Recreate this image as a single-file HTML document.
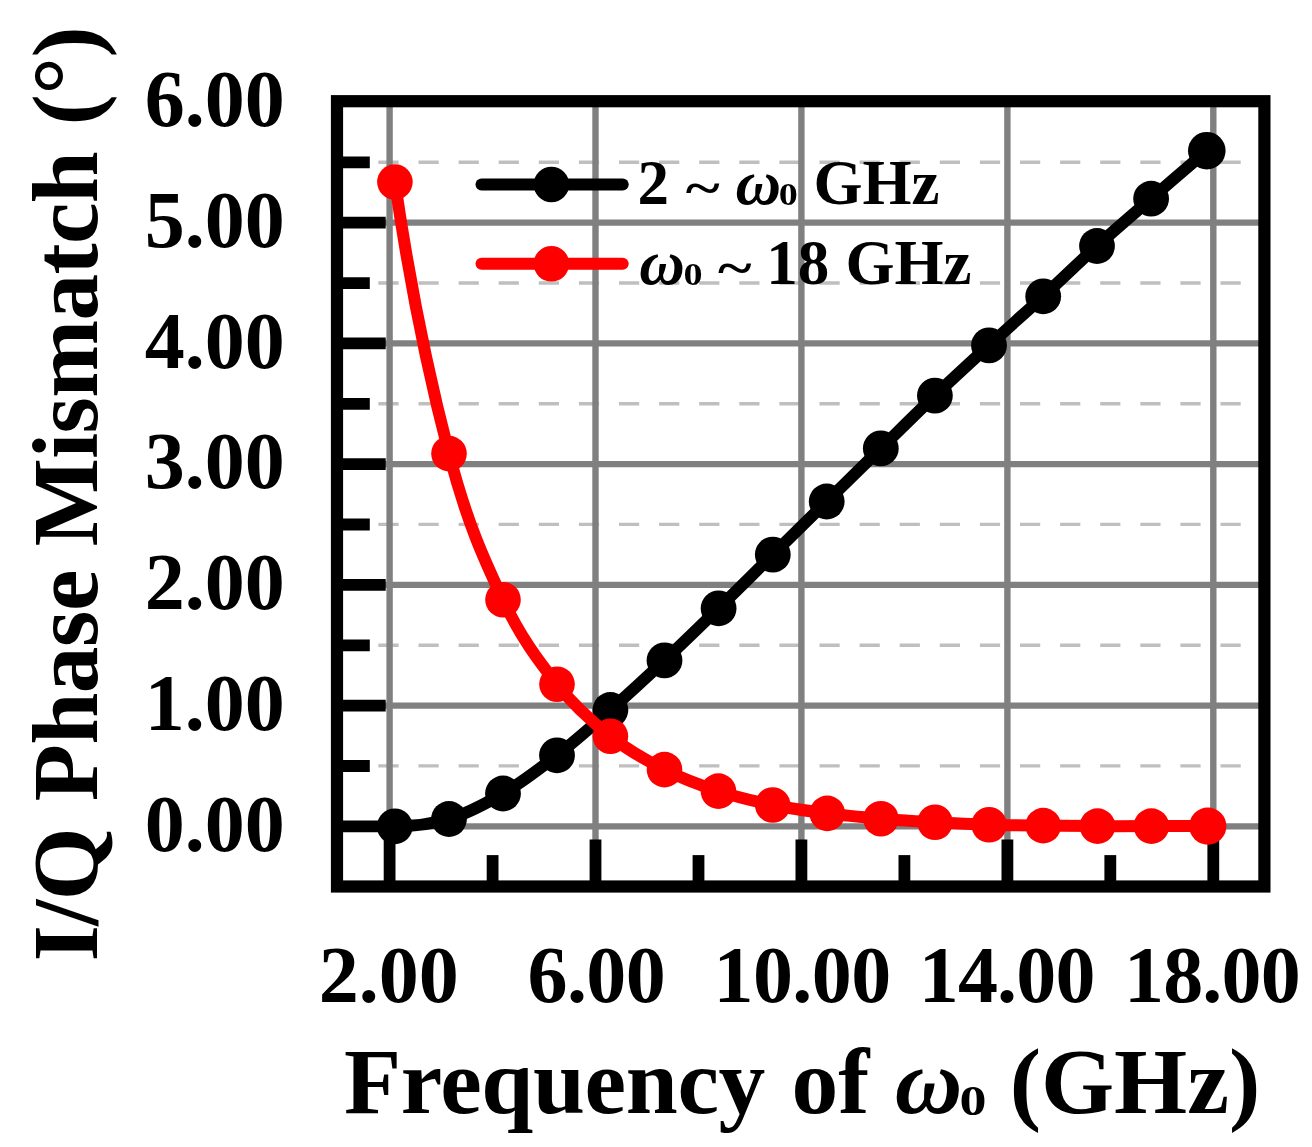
<!DOCTYPE html>
<html lang="en"><head><meta charset="utf-8"><title>I/Q Phase Mismatch vs Frequency</title>
<style>html,body{margin:0;padding:0;background:#fff}body{width:1312px;height:1147px;overflow:hidden}svg{display:block}text{font-family:"Liberation Serif","Times New Roman",serif;font-weight:bold;fill:#000}.it{font-style:italic}</style></head><body>
<svg width="1312" height="1147" viewBox="0 0 1312 1147">
<rect width="1312" height="1147" fill="#fff"/>
<g stroke="#bfbfbf" stroke-width="3.4" stroke-dasharray="20.2 19.9" fill="none">
<line x1="378.4" y1="765.9" x2="1241" y2="765.9"/>
<line x1="378.4" y1="645.2" x2="1241" y2="645.2"/>
<line x1="378.4" y1="524.4" x2="1241" y2="524.4"/>
<line x1="378.4" y1="403.7" x2="1241" y2="403.7"/>
<line x1="378.4" y1="283.0" x2="1241" y2="283.0"/>
<line x1="378.4" y1="162.2" x2="1241" y2="162.2"/>
</g>
<g stroke="#808080" stroke-width="6.4" fill="none">
<line x1="389.6" y1="101.2" x2="389.6" y2="886.5"/>
<line x1="595.5" y1="101.2" x2="595.5" y2="886.5"/>
<line x1="801.4" y1="101.2" x2="801.4" y2="886.5"/>
<line x1="1007.4" y1="101.2" x2="1007.4" y2="886.5"/>
<line x1="1213.3" y1="101.2" x2="1213.3" y2="886.5"/>
<line x1="337.0" y1="826.4" x2="1264.4" y2="826.4" stroke-width="6.2"/>
<line x1="337.0" y1="705.7" x2="1264.4" y2="705.7" stroke-width="6.2"/>
<line x1="337.0" y1="584.9" x2="1264.4" y2="584.9" stroke-width="6.2"/>
<line x1="337.0" y1="464.2" x2="1264.4" y2="464.2" stroke-width="6.2"/>
<line x1="337.0" y1="343.4" x2="1264.4" y2="343.4" stroke-width="6.2"/>
<line x1="337.0" y1="222.7" x2="1264.4" y2="222.7" stroke-width="6.2"/>
</g>
<g stroke="#000" stroke-width="11.8" fill="none">
<line x1="337.0" y1="826.4" x2="385.7" y2="826.4"/>
<line x1="337.0" y1="705.7" x2="385.7" y2="705.7"/>
<line x1="337.0" y1="584.9" x2="385.7" y2="584.9"/>
<line x1="337.0" y1="464.2" x2="385.7" y2="464.2"/>
<line x1="337.0" y1="343.4" x2="385.7" y2="343.4"/>
<line x1="337.0" y1="222.7" x2="385.7" y2="222.7"/>
<line x1="337.0" y1="766.0" x2="369.8" y2="766.0"/>
<line x1="337.0" y1="645.3" x2="369.8" y2="645.3"/>
<line x1="337.0" y1="524.5" x2="369.8" y2="524.5"/>
<line x1="337.0" y1="403.8" x2="369.8" y2="403.8"/>
<line x1="337.0" y1="283.1" x2="369.8" y2="283.1"/>
<line x1="337.0" y1="162.3" x2="369.8" y2="162.3"/>
<line x1="389.6" y1="886.5" x2="389.6" y2="839.5"/>
<line x1="595.5" y1="886.5" x2="595.5" y2="839.5"/>
<line x1="801.4" y1="886.5" x2="801.4" y2="839.5"/>
<line x1="1007.4" y1="886.5" x2="1007.4" y2="839.5"/>
<line x1="1213.3" y1="886.5" x2="1213.3" y2="839.5"/>
<line x1="492.6" y1="886.5" x2="492.6" y2="855.1"/>
<line x1="698.5" y1="886.5" x2="698.5" y2="855.1"/>
<line x1="904.4" y1="886.5" x2="904.4" y2="855.1"/>
<line x1="1110.3" y1="886.5" x2="1110.3" y2="855.1"/>
</g>
<rect x="337.0" y="101.2" width="927.4" height="785.3" fill="none" stroke="#000" stroke-width="12.2"/>
<g stroke-width="12" stroke-linecap="round" fill="none"><line x1="481.5" y1="184.5" x2="622.7" y2="184.5" stroke="#000"/><line x1="481.5" y1="263.7" x2="622.7" y2="263.7" stroke="#f00"/></g>
<circle cx="551.4" cy="184.5" r="17.8" fill="#000"/><circle cx="551.4" cy="263.8" r="17.8" fill="#f00"/>
<text x="637.6" y="204.3" font-size="63.0">2</text>
<text transform="translate(685.8 205.3) scale(1.035 0.80)" font-size="63.0">~</text>
<text x="735.5" y="204.3" font-size="63.0" class="it">ω</text>
<text transform="translate(778.7 205.1) scale(1.230 1)" font-size="31.0">0</text>
<text x="813.5" y="204.3" font-size="63.0">GHz</text>
<text x="639.2" y="284.0" font-size="63.0" class="it">ω</text>
<text transform="translate(683.5 284.8) scale(1.230 1)" font-size="31.0">0</text>
<text transform="translate(718.1 284.8) scale(1.023 0.80)" font-size="63.0">~</text>
<text x="766.2" y="284.0" font-size="63.0">18</text>
<text x="845.5" y="284.0" font-size="63.0">GHz</text>
<path d="M394.8 826.3 C413.0 826.4 431.0 824.3 449.0 819.0 C467.0 813.5 485.0 804.1 503.0 793.5 C521.0 782.9 539.1 769.2 557.0 755.3 C574.9 741.4 592.5 725.8 610.4 710.0 C628.3 694.2 646.5 677.4 664.5 660.4 C682.5 643.4 700.6 625.9 718.6 608.3 C736.6 590.7 754.8 572.4 772.8 554.6 C790.8 536.8 808.7 519.2 826.7 501.5 C844.7 483.8 862.8 466.0 880.8 448.4 C898.8 430.8 916.9 412.8 934.9 395.6 C952.9 378.4 971.0 361.9 989.0 345.4 C1007.0 328.8 1025.2 312.9 1043.2 296.3 C1061.2 279.7 1079.0 262.3 1097.0 246.0 C1115.0 229.7 1132.8 214.6 1151.1 198.7 C1169.4 182.8 1197.5 158.7 1206.8 150.7" fill="none" stroke="#000" stroke-width="12" stroke-linejoin="round" stroke-linecap="round"/>
<circle cx="394.8" cy="826.3" r="17.9" fill="#000"/>
<circle cx="449.0" cy="819.0" r="17.9" fill="#000"/>
<circle cx="503.0" cy="793.5" r="17.9" fill="#000"/>
<circle cx="557.0" cy="755.3" r="17.9" fill="#000"/>
<circle cx="610.4" cy="710.0" r="17.9" fill="#000"/>
<circle cx="664.5" cy="660.4" r="17.9" fill="#000"/>
<circle cx="718.6" cy="608.3" r="17.9" fill="#000"/>
<circle cx="772.8" cy="554.6" r="17.9" fill="#000"/>
<circle cx="826.7" cy="501.5" r="17.9" fill="#000"/>
<circle cx="880.8" cy="448.4" r="17.9" fill="#000"/>
<circle cx="934.9" cy="395.6" r="17.9" fill="#000"/>
<circle cx="989.0" cy="345.4" r="17.9" fill="#000"/>
<circle cx="1043.2" cy="296.3" r="17.9" fill="#000"/>
<circle cx="1097.0" cy="246.0" r="17.9" fill="#000"/>
<circle cx="1151.1" cy="198.7" r="17.9" fill="#000"/>
<circle cx="1206.8" cy="150.7" r="18.8" fill="#000"/>
<path d="M394.9 182.0 C408.0 272.0 425.5 363.6 449.0 453.6 C467.0 523.2 485.0 561.3 503.0 599.7 C521.0 638.1 539.1 661.5 557.0 684.2 C574.9 707.0 592.5 722.0 610.4 736.2 C628.3 750.4 646.5 760.5 664.5 769.6 C682.5 778.8 700.4 785.2 718.4 791.1 C736.4 797.0 754.6 801.3 772.7 805.0 C790.9 808.7 809.3 811.1 827.3 813.4 C845.3 815.7 862.9 817.2 880.9 818.7 C898.9 820.2 917.0 821.3 935.0 822.3 C953.0 823.3 971.1 824.2 989.1 824.8 C1007.1 825.3 1025.1 825.4 1043.2 825.6 C1061.3 825.8 1079.5 826.0 1097.5 826.1 C1115.5 826.2 1133.0 826.1 1151.4 826.1 C1169.8 826.1 1198.4 826.1 1207.8 826.1" fill="none" stroke="#f00" stroke-width="12" stroke-linejoin="round" stroke-linecap="round"/>
<circle cx="394.9" cy="182.0" r="17.8" fill="#f00"/>
<circle cx="449.0" cy="453.6" r="17.8" fill="#f00"/>
<circle cx="503.0" cy="599.7" r="17.8" fill="#f00"/>
<circle cx="557.0" cy="684.2" r="17.8" fill="#f00"/>
<circle cx="610.4" cy="736.2" r="17.8" fill="#f00"/>
<circle cx="664.5" cy="769.6" r="17.8" fill="#f00"/>
<circle cx="718.4" cy="791.1" r="17.8" fill="#f00"/>
<circle cx="772.7" cy="805.0" r="17.8" fill="#f00"/>
<circle cx="827.3" cy="813.4" r="17.8" fill="#f00"/>
<circle cx="880.9" cy="818.7" r="17.8" fill="#f00"/>
<circle cx="935.0" cy="822.3" r="17.8" fill="#f00"/>
<circle cx="989.1" cy="824.8" r="17.8" fill="#f00"/>
<circle cx="1043.2" cy="825.6" r="17.8" fill="#f00"/>
<circle cx="1097.5" cy="826.1" r="17.8" fill="#f00"/>
<circle cx="1151.4" cy="826.1" r="17.8" fill="#f00"/>
<circle cx="1207.8" cy="826.1" r="18.6" fill="#f00"/>
<text x="284.7" y="850.6" font-size="80" text-anchor="end">0.00</text>
<text x="284.7" y="729.9" font-size="80" text-anchor="end">1.00</text>
<text x="284.7" y="609.1" font-size="80" text-anchor="end">2.00</text>
<text x="284.7" y="488.4" font-size="80" text-anchor="end">3.00</text>
<text x="284.7" y="367.6" font-size="80" text-anchor="end">4.00</text>
<text x="284.7" y="246.9" font-size="80" text-anchor="end">5.00</text>
<text x="284.7" y="126.2" font-size="80" text-anchor="end">6.00</text>
<text x="318.8" y="1002.2" font-size="80.0" letter-spacing="0.00">2.00</text>
<text x="527.6" y="1002.2" font-size="80.0" letter-spacing="-0.61">6.00</text>
<text x="713.6" y="1002.2" font-size="80.0" letter-spacing="-0.61">10.00</text>
<text x="918.7" y="1002.2" font-size="80.0" letter-spacing="-0.79">14.00</text>
<text x="1123.9" y="1002.2" font-size="80.0" letter-spacing="-0.76">18.00</text>
<text x="344.0" y="1113.0" font-size="93.5" letter-spacing="-0.36">Frequency</text>
<text x="791.4" y="1113.0" font-size="93.5">of</text>
<text x="894.8" y="1113.0" font-size="93.5" class="it">ω</text>
<text transform="translate(959.4 1114.5) scale(1.270 1)" font-size="42.5">0</text>
<text x="1009.7" y="1113.0" font-size="94.0">(GHz)</text>
<text transform="translate(96.6 961.6) rotate(-90)" font-size="93.5" letter-spacing="-0.47">I/Q</text>
<text transform="translate(96.6 801.2) rotate(-90)" font-size="93.5" letter-spacing="-0.53">Phase</text>
<text transform="translate(96.6 546.3) rotate(-90)" font-size="93.5" letter-spacing="-0.70">Mismatch</text>
<text transform="translate(96.6 125.3) rotate(-90)" font-size="93.5" letter-spacing="-0.42">(°)</text>
</svg></body></html>
